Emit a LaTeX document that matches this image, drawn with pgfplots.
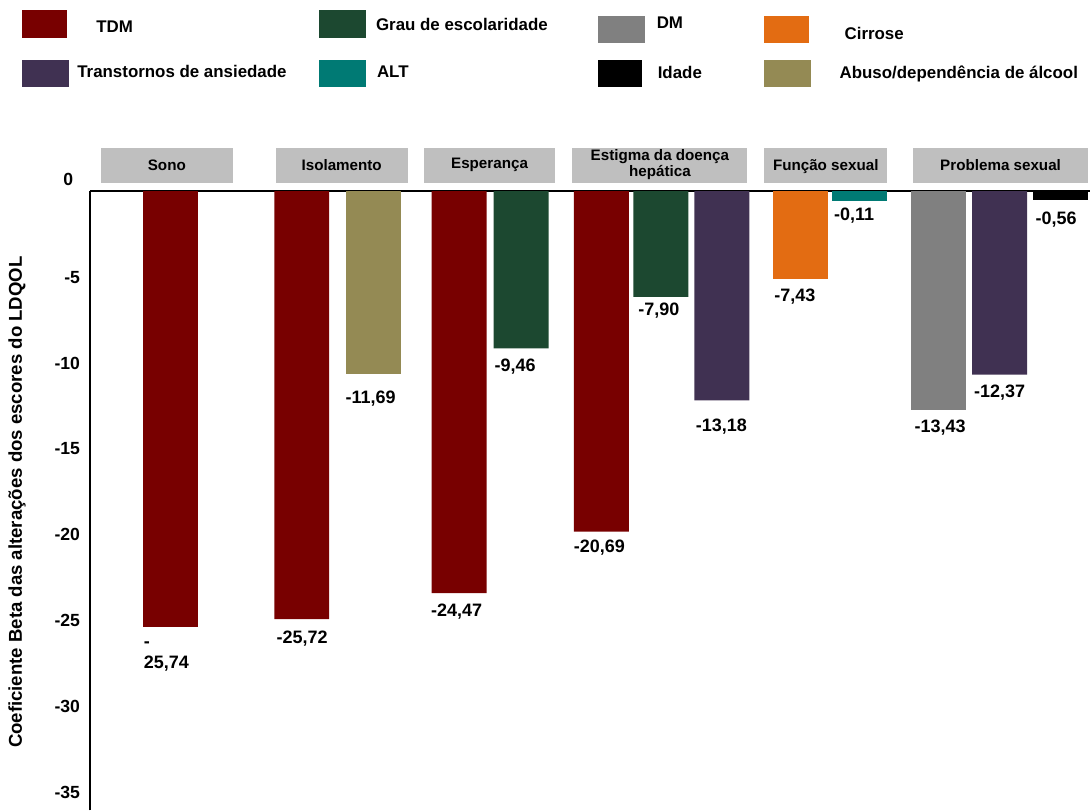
\documentclass[border=0pt]{standalone}
\usepackage{fontspec}
\setmainfont{Liberation Sans}
\usepackage{pgfplots}
\pgfplotsset{compat=1.18}
\definecolor{cTDM}{HTML}{780000}
\definecolor{cGrau}{HTML}{1C4830}
\definecolor{cDM}{HTML}{808080}
\definecolor{cCir}{HTML}{E36C12}
\definecolor{cAns}{HTML}{403152}
\definecolor{cALT}{HTML}{007A74}
\definecolor{cIdade}{HTML}{000000}
\definecolor{cAlc}{HTML}{948A54}
\definecolor{cHead}{HTML}{BFBFBF}
\begin{document}
\begin{tikzpicture}
\begin{scope}[x=0.5pt,y=-0.5pt]
\useasboundingbox (0,0) rectangle (1091,811);
% legend
\tikzset{lg/.style={anchor=base west, inner sep=0pt, font=\fontsize{8.45}{10}\selectfont\bfseries}}
\fill[cTDM]   (22,10) rectangle (67,37.7);  \node[lg] at (96,32.8) {TDM};
\fill[cGrau]  (319,10) rectangle (366,37.7); \node[lg] at (376,30.1) {Grau de escolaridade};
\fill[cDM]    (599,16) rectangle (646,42.7); \node[lg] at (657,28.8) {DM};
\fill[cCir]   (765,16) rectangle (810,42.7); \node[lg] at (845,39.4) {Cirrose};
\fill[cAns]   (22,60) rectangle (69,86.7);  \node[lg] at (77,77.1) {Transtornos de ansiedade};
\fill[cALT]   (319,60) rectangle (366,86.7); \node[lg] at (377,77.1) {ALT};
\fill[cIdade] (599,60) rectangle (643,86.7); \node[lg] at (658,78.8) {Idade};
\fill[cAlc]   (765,60) rectangle (812,86.7); \node[lg] at (840,78.1) {Abuso/dependência de álcool};
% group headers
\tikzset{hd/.style={anchor=base, inner sep=0pt, font=\fontsize{7.6}{9}\selectfont\bfseries}}
\fill[cHead] (101,148.3) rectangle (233,182.7); \node[hd] at (167,170.5) {Sono};
\fill[cHead] (276,148.3) rectangle (408,182.7); \node[hd] at (342,170.5) {Isolamento};
\fill[cHead] (424,148.3) rectangle (556,182.7); \node[hd] at (490,168.5) {Esperança};
\fill[cHead] (573,148.3) rectangle (748,182.7); \node[hd] at (660.5,160.5) {Estigma da doença};
\node[hd] at (660.5,176.8) {hepática};
\fill[cHead] (765,148.3) rectangle (888,182.7); \node[hd] at (826.5,170.5) {Função sexual};
\fill[cHead] (914,148.3) rectangle (1089,182.7); \node[hd] at (1001.5,170.5) {Problema sexual};
\end{scope}
\begin{axis}[
  at={(45pt,-95.65pt)}, anchor=north west,
  scale only axis, width=500.5pt, height=309.85pt,
  xmin=90, xmax=1091, ymin=-36.03, ymax=0,
  clip=false,
  axis x line=top, axis y line=left,
  axis line style={-},
  x axis line style={line width=1pt},
  y axis line style={line width=0.6pt},
  xtick=\empty,
  ytick={-35,-30,-25,-20,-15,-10,-5},
  yticklabels={-35,-30,-25,-20,-15,-10,-5},
  extra y ticks={0}, extra y tick labels={0},
  extra y tick style={yticklabel style={xshift=-3.5pt,yshift=5.6pt}},
  major tick length=0pt,
  yticklabel style={font=\fontsize{8.8}{10}\selectfont\bfseries, inner sep=0pt, anchor=east, xshift=-4.75pt},
  ylabel={Coeficiente Beta das alterações dos escores do LDQOL},
  ylabel style={font=\fontsize{9.3}{10}\selectfont\bfseries, at={(axis cs:17,-18.1)}, anchor=center, inner sep=0pt},
  every axis plot/.append style={ybar, bar width=55, bar shift=0pt, draw=none},
  point meta=explicit symbolic,
  nodes near coords,
  visualization depends on={value \thisrow{dx}\as\dx},
  visualization depends on={value \thisrow{dy}\as\dy},
  nodes near coords style={font=\fontsize{9}{10.6}\selectfont\bfseries, anchor=center, align=left, inner sep=0pt, xshift=\dx*0.5pt, yshift=-\dy*0.5pt},
]
% TDM
\addplot[fill=cTDM] table[x=x,y=y,meta=lab] {
x y lab dx dy
302 -24.91 -25,72 0.5 19
459.5 -23.40 -24,47 -2.5 18
602 -19.81 -20,69 -2 15.7
};
\addplot[fill=cTDM, nodes near coords={-\\25,74}] table[x=x,y=y,meta=lab] {
x y lab dx dy
170.5 -25.37 -25,74 -4 29.7
};
% Abuso/dependencia de alcool
\addplot[fill=cAlc] table[x=x,y=y,meta=lab] {
x y lab dx dy
373.5 -10.66 -11,69 -2.5 24.3
};
% Grau de escolaridade
\addplot[fill=cGrau] table[x=x,y=y,meta=lab] {
x y lab dx dy
521.5 -9.15 -9,46 -6 18
661.5 -6.15 -7,90 -2 14
};
% Transtornos de ansiedade
\addplot[fill=cAns] table[x=x,y=y,meta=lab] {
x y lab dx dy
722.5 -12.17 -13,18 -0.5 26.6
1000.5 -10.68 -12,37 0 18.3
};
% Cirrose
\addplot[fill=cCir] table[x=x,y=y,meta=lab] {
x y lab dx dy
801.5 -5.10 -7,43 -6 18.3
};
% ALT
\addplot[fill=cALT] table[x=x,y=y,meta=lab] {
x y lab dx dy
860.5 -0.55 -0,11 -5.5 15.3
};
% DM
\addplot[fill=cDM] table[x=x,y=y,meta=lab] {
x y lab dx dy
939.5 -12.72 -13,43 1.5 18
};
% Idade
\addplot[fill=cIdade] table[x=x,y=y,meta=lab] {
x y lab dx dy
1061.5 -0.49 -0,56 -4.5 19.6
};
\end{axis}
\end{tikzpicture}
\end{document}
